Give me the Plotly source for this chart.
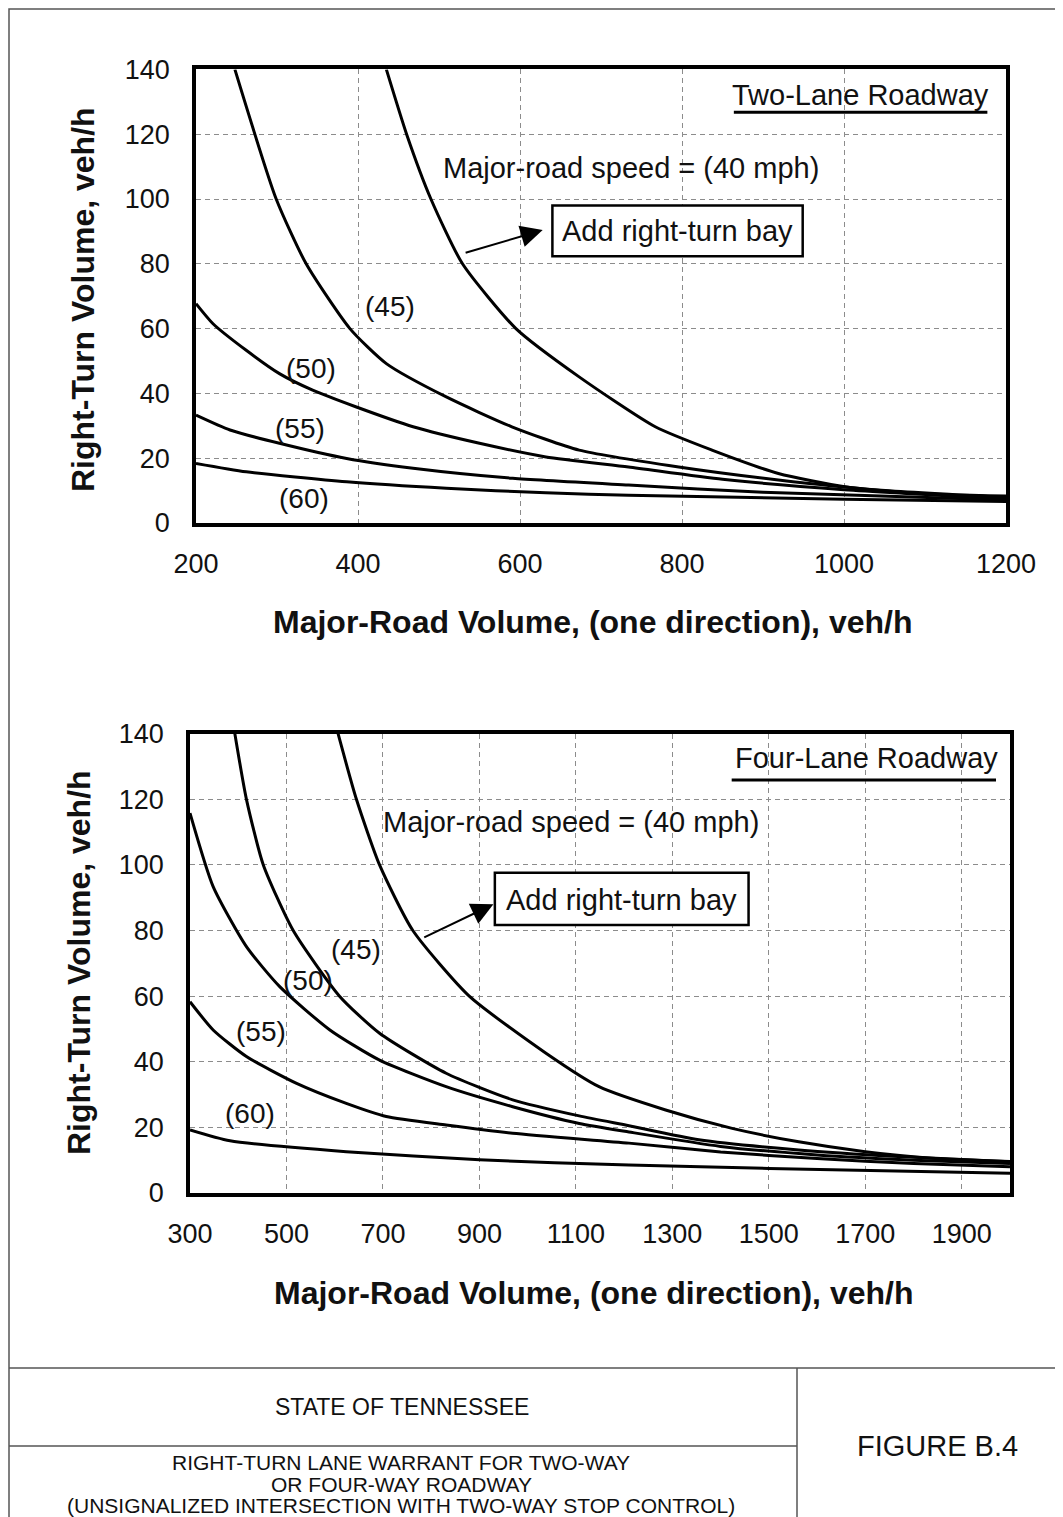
import plotly.graph_objects as go

W, H = 1063, 1517
OFF = 8  # page body margin of the html page

# ---------------- Data: Two-Lane Roadway ----------------
two_lane_speeds = ["40", "45", "50", "55", "60"]
tl_40_x = [435, 460, 490, 529, 595, 673, 767, 837, 919, 1001, 1083, 1200]
tl_40_y = [140, 120, 100, 80, 60, 45.1, 29.7, 22.5, 15.3, 11.2, 9.2, 8.3]
tl_45_x = [248, 299, 336, 390, 435, 509, 590, 673, 796, 919, 1042, 1200]
tl_45_y = [140, 100, 80, 60, 49.2, 38.9, 29.7, 22.5, 17.3, 13.3, 10.2, 7.9]
tl_50_x = [200, 221, 262, 303, 344, 398, 468, 550, 632, 734, 850, 1000, 1200]
tl_50_y = [67.7, 61.5, 53.3, 46.1, 41, 35.8, 29.7, 24.6, 20.4, 17.3, 13.5, 10.3, 7.5]
tl_55_x = [200, 242, 303, 386, 468, 591, 734, 900, 1200]
tl_55_y = [33.3, 28.7, 24.6, 19.9, 16.9, 13.8, 11.7, 9.5, 7.1]
tl_60_x = [200, 262, 386, 509, 632, 734, 1000, 1200]
tl_60_y = [18.4, 15.8, 12.7, 10.7, 9.3, 8.6, 7.3, 6.6]

# ---------------- Data: Four-Lane Roadway ----------------
fl_40_x = [607, 645, 693, 762, 879, 1038, 1148, 1286, 1424, 1562, 1700, 1837, 2000]
fl_40_y = [140, 120, 100, 80, 60, 42.6, 32.4, 25.3, 19.7, 15.6, 12.6, 10.6, 9.6]
fl_45_x = [393, 417, 452, 514, 610, 693, 831, 969, 1107, 1210, 1355, 1562, 1768, 2000]
fl_45_y = [140, 120, 100, 80, 60, 48.7, 36.5, 28.4, 23.5, 20.5, 16.2, 13.1, 11.1, 9.5]
fl_50_x = [300, 348, 417, 486, 590, 693, 831, 969, 1107, 1210, 1400, 1600, 1800, 2000]
fl_50_y = [115.8, 93.4, 75.1, 62.9, 49.7, 40.5, 32.4, 26.3, 21.2, 18.6, 14.2, 11.6, 10.0, 9.0]
fl_55_x = [300, 348, 417, 521, 624, 707, 831, 969, 1210, 1400, 1600, 1800, 2000]
fl_55_y = [58.3, 49.7, 41.6, 33.4, 27.3, 23.3, 20.7, 18.2, 15.2, 12.5, 10.5, 9.0, 8.0]
fl_60_x = [300, 383, 624, 900, 1210, 1500, 2000]
fl_60_y = [19.2, 15.9, 12.6, 10.1, 8.5, 7.5, 6.0]

# ---------------- Axis ticks ----------------
tl_xticks = [200, 400, 600, 800, 1000, 1200]
fl_xticks = [300, 500, 700, 900, 1100, 1300, 1500, 1700, 1900]
yticks = [0, 20, 40, 60, 80, 100, 120, 140]

FONT = "Liberation Sans, Arial, Helvetica, sans-serif"


def px(x):
    return (x - OFF) / W


def py(y):
    return 1 - (y - OFF) / H


fig = go.Figure()

line_style = dict(color="black", width=3, shape="spline", smoothing=0.6)
for xs, ys in [(tl_40_x, tl_40_y), (tl_45_x, tl_45_y), (tl_50_x, tl_50_y),
               (tl_55_x, tl_55_y), (tl_60_x, tl_60_y)]:
    fig.add_trace(go.Scatter(x=xs, y=ys, mode="lines", line=line_style,
                             xaxis="x", yaxis="y", showlegend=False, hoverinfo="skip"))
for xs, ys in [(fl_40_x, fl_40_y), (fl_45_x, fl_45_y), (fl_50_x, fl_50_y),
               (fl_55_x, fl_55_y), (fl_60_x, fl_60_y)]:
    fig.add_trace(go.Scatter(x=xs, y=ys, mode="lines", line=line_style,
                             xaxis="x2", yaxis="y2", showlegend=False, hoverinfo="skip"))

axis_common = dict(
    showline=True, linecolor="black", linewidth=3.5, mirror=True,
    showgrid=True, gridcolor="#8c8c8c", gridwidth=1, griddash="5px,4px",
    zeroline=False, ticks="outside", tickcolor="rgba(0,0,0,0)",
    automargin=False,
    tickfont=dict(family=FONT, size=27, color="#111"),
)

fig.update_layout(
    template="none",
    width=W, height=H, autosize=False,
    margin=dict(l=0, r=0, t=0, b=0, pad=0, autoexpand=False),
    paper_bgcolor="white", plot_bgcolor="white",
    showlegend=False,
    xaxis=dict(domain=[px(196), px(1006)], range=[200, 1200], anchor="y",
               tickvals=tl_xticks, ticklen=14, **axis_common),
    yaxis=dict(domain=[py(523), py(69.4)], range=[0, 140], anchor="x",
               tickvals=yticks, ticklen=17, **axis_common),
    xaxis2=dict(domain=[px(190), px(1010)], range=[300, 2000], anchor="y2",
                tickvals=fl_xticks, ticklen=14, **axis_common),
    yaxis2=dict(domain=[py(1193), py(733.7)], range=[0, 140], anchor="x2",
                tickvals=yticks, ticklen=17, **axis_common),
)

ann = []
shapes = []

txt = dict(family=FONT, size=29, color="#111")
lbl = dict(family=FONT, size=28, color="#111")
title_font = dict(family=FONT, size=32, color="#111")
arrow_style = dict(text="", showarrow=True, arrowhead=2, arrowsize=2.2, arrowwidth=2,
                   arrowcolor="black")

# ---- Top chart annotations ----
ann.append(dict(x=1181, y=132, xref="x", yref="y", text="Two-Lane Roadway",
                showarrow=False, xanchor="right", yanchor="middle", font=txt))
shapes.append(dict(type="line", xref="x", yref="y", x0=864, x1=1177, y0=126.8, y1=126.8,
                   line=dict(color="black", width=3)))
ann.append(dict(x=737, y=109.7, xref="x", yref="y", text="Major-road speed = (40 mph)",
                showarrow=False, font=txt))
shapes.append(dict(type="rect", xref="x", yref="y", x0=640, x1=949, y0=82.3, y1=98,
                   line=dict(color="black", width=2.5), fillcolor="white"))
ann.append(dict(x=794.5, y=90, xref="x", yref="y", text="Add right-turn bay",
                showarrow=False, font=txt))
ann.append(dict(x=628, y=90.4, xref="x", yref="y", ax=531, ay=83.3, axref="x", ayref="y",
                **arrow_style))
for t, xx, yy in [("(45)", 439, 66.7), ("(50)", 342.5, 47.7), ("(55)", 328, 29.2), ("(60)", 333, 7.6)]:
    ann.append(dict(x=xx, y=yy, xref="x", yref="y", text=t, showarrow=False, font=lbl))

# ---- Bottom chart annotations ----
ann.append(dict(x=1979, y=132.6, xref="x2", yref="y2", text="Four-Lane Roadway",
                showarrow=False, xanchor="right", yanchor="middle", font=txt))
shapes.append(dict(type="line", xref="x2", yref="y2", x0=1423, x1=1971, y0=125.9, y1=125.9,
                   line=dict(color="black", width=3)))
ann.append(dict(x=1090, y=113.2, xref="x2", yref="y2", text="Major-road speed = (40 mph)",
                showarrow=False, font=txt))
shapes.append(dict(type="rect", xref="x2", yref="y2", x0=932, x1=1458, y0=81.7, y1=97.6,
                   line=dict(color="black", width=2.5), fillcolor="white"))
ann.append(dict(x=1195, y=89.4, xref="x2", yref="y2", text="Add right-turn bay",
                showarrow=False, font=txt))
ann.append(dict(x=929, y=88.0, xref="x2", yref="y2", ax=782.5, ay=77.7, axref="x2", ayref="y2",
                **arrow_style))
for t, xx, yy in [("(45)", 645, 74.1), ("(50)", 545, 64.9), ("(55)", 448, 49.2), ("(60)", 424, 24.3)]:
    ann.append(dict(x=xx, y=yy, xref="x2", yref="y2", text=t, showarrow=False, font=lbl))


def paper_text(x, y, text, font, angle=0):
    return dict(x=px(x), y=py(y), xref="paper", yref="paper", text=text,
                showarrow=False, xanchor="center", yanchor="middle",
                textangle=angle, font=font)


# ---- Axis titles ----
xtitle = "<b>Major-Road Volume, (one direction), veh/h</b>"
ytitle = "<b>Right-Turn Volume, veh/h</b>"
ann.append(paper_text(592, 622, xtitle, title_font))
ann.append(paper_text(593, 1293, xtitle, title_font))
ann.append(paper_text(83, 300, ytitle, title_font, -90))
ann.append(paper_text(79, 963, ytitle, title_font, -90))

# ---- Page frame and title block ----
frame = dict(color="#555", width=1.5)
shapes.append(dict(type="rect", xref="paper", yref="paper", x0=px(9), x1=px(1080),
                   y0=py(1540), y1=py(9), line=frame, layer="below"))
shapes.append(dict(type="line", xref="paper", yref="paper", x0=px(9), x1=px(1080),
                   y0=py(1368), y1=py(1368), line=frame))
shapes.append(dict(type="line", xref="paper", yref="paper", x0=px(797), x1=px(797),
                   y0=py(1368), y1=py(1540), line=frame))
shapes.append(dict(type="line", xref="paper", yref="paper", x0=px(9), x1=px(797),
                   y0=py(1446), y1=py(1446), line=frame))

blk = dict(family=FONT, size=21, color="#111")
ann.append(paper_text(402, 1407, "STATE OF TENNESSEE", dict(family=FONT, size=23, color="#111")))
ann.append(paper_text(937, 1446, "FIGURE B.4", dict(family=FONT, size=29, color="#111")))
for t, yy in [("RIGHT-TURN LANE WARRANT FOR TWO-WAY", 1462),
              ("OR FOUR-WAY ROADWAY", 1484),
              ("(UNSIGNALIZED INTERSECTION WITH TWO-WAY STOP CONTROL)", 1505)]:
    ann.append(paper_text(401, yy, t, blk))

fig.update_layout(annotations=ann, shapes=shapes)
fig.write_html("out.html")
